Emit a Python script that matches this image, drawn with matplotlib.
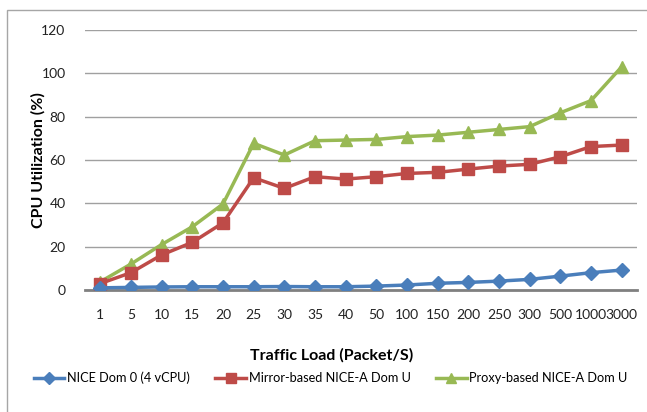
import matplotlib.pyplot as plt
from matplotlib.patches import Rectangle

# Traffic load categories (packets per second)
loads = ["1", "5", "10", "15", "20", "25", "30", "35", "40", "50",
         "100", "150", "200", "250", "300", "500", "1000", "3000"]

# CPU utilization (%) per configuration
dom0 = [1.0, 1.2, 1.4, 1.5, 1.5, 1.5, 1.6, 1.5, 1.5, 1.8,
        2.3, 3.1, 3.5, 4.1, 4.9, 6.4, 8.0, 9.2]
mirror = [3.0, 8.0, 16.2, 22.0, 31.0, 51.8, 46.9, 52.3, 51.2, 52.3,
          53.8, 54.3, 55.8, 57.2, 58.0, 61.5, 66.2, 66.9]
proxy = [3.8, 12.0, 21.0, 29.2, 39.7, 67.7, 62.3, 68.9, 69.2, 69.5,
         70.8, 71.5, 72.8, 74.1, 75.4, 81.8, 87.4, 103.0]

yticks = [0, 20, 40, 60, 80, 100, 120]

plt.rcParams['font.family'] = ['Lato', 'DejaVu Sans']

fig = plt.figure(figsize=(6.47, 4.12), dpi=100)
fig.patches.append(Rectangle((7 / 647, -0.05), 1.0, (412 - 10) / 412 + 0.05,
                             transform=fig.transFigure, fill=False,
                             edgecolor="#a6a6a6", linewidth=1.0))

ax = fig.add_axes([85 / 647, 122 / 412, 552 / 647, 260 / 412])
x = range(len(loads))

ax.plot(x, dom0, color="#4A7EBB", lw=2.5, marker="D", ms=7,
        label="NICE Dom 0 (4 vCPU)", zorder=5)
ax.plot(x, mirror, color="#BE4B48", lw=2.5, marker="s", ms=8,
        label="Mirror-based NICE-A Dom U", zorder=4)
ax.plot(x, proxy, color="#98B954", lw=2.5, marker="^", ms=9,
        label="Proxy-based NICE-A Dom U", zorder=3)

ax.set_xlim(-0.5, len(loads) - 0.5)
ax.set_ylim(0, 120)
ax.set_xticks(list(x))
ax.set_xticklabels(loads)
ax.set_yticks(yticks)
ax.tick_params(axis="both", length=0, labelsize=10, colors="#222222")
ax.tick_params(axis="x", pad=14)
ax.tick_params(axis="y", pad=14)

ax.yaxis.grid(True, color="#a0a0a0", lw=1.0)
ax.set_axisbelow(True)
for side in ["left", "right", "top"]:
    ax.spines[side].set_visible(False)
ax.spines["bottom"].set_color("#808080")
ax.spines["bottom"].set_linewidth(2)

ax.set_xlabel("Traffic Load (Packet/S)", fontsize=11.5, fontweight="bold")
ax.xaxis.set_label_coords(0.447, -0.223)
ax.set_ylabel("CPU Utilization (%)", fontsize=11.5, fontweight="bold")
ax.yaxis.set_label_coords(-0.071, 0.5)

ax.legend(loc="center", bbox_to_anchor=(0.445, -0.338), ncol=3, frameon=False,
          fontsize=9.2, handlelength=2.4, columnspacing=2.0, handletextpad=0.2,
          markerscale=0.85)

fig.savefig("out.png", dpi=100)
